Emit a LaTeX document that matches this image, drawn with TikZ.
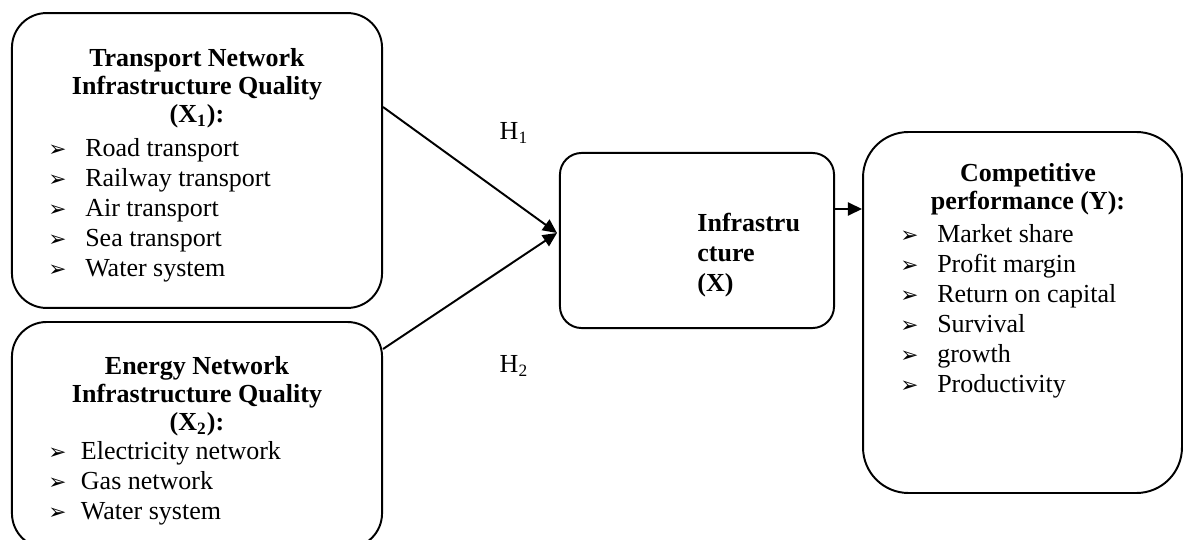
\documentclass[tikz,border=0pt]{standalone}
\usepackage{fontspec}
\setmainfont{Liberation Serif}
\newfontfamily\arrowfont{DejaVu Sans}
\usepackage{tikz}
\usetikzlibrary{calc,arrows.meta}

% list item with an arrowhead bullet
\newcommand{\itm}[2][17pt]{\makebox[#1][l]{\arrowfont\fontsize{10}{10}\selectfont ➢}#2}

\begin{document}
\begin{tikzpicture}[x=0.4615pt, y=-0.4615pt, >={Triangle[length=6.5pt,width=6pt]},
  font=\fontsize{12}{13.85}\selectfont,
  box/.style={draw, line width=0.9pt, inner sep=0pt},
  head/.style={align=center, inner sep=0pt, anchor=north, font=\fontsize{12}{13}\selectfont\bfseries},
  list/.style={align=left, inner sep=0pt, anchor=north west},
  link/.style={->, line width=0.9pt}]

\useasboundingbox (0,0) rectangle (1184,540);

% Boxes (pixel coordinates, y downwards)
\node[box, rounded corners=16pt, minimum width=170.8pt, minimum height=136.1pt] (tni) at (197,160.5) {};
\node[box, rounded corners=16pt, minimum width=170.8pt, minimum height=104.3pt] (eni) at (197,435) {};
\node[box, rounded corners=10pt, minimum width=126.5pt, minimum height=80.8pt] (infra) at (697,240.5) {};
\node[box, rounded corners=21pt, minimum width=147.2pt, minimum height=166.6pt] (cp) at (1022.5,312.5) {};

% Transport network
\node[head] (tniHead) at (197,48) {Transport Network\\ Infrastructure Quality\\ (X\textsubscript{1}):};
\node[list] (tniList) at (48,138) {\itm{Road transport}\\ \itm{Railway transport}\\ \itm{Air transport}\\
  \itm{Sea transport}\\ \itm{Water system}};

% Energy network
\node[head] (eniHead) at (197,356) {Energy Network\\ Infrastructure Quality\\ (X\textsubscript{2}):};
\node[list] (eniList) at (48,441) {\itm[15pt]{Electricity network}\\ \itm[15pt]{Gas network}\\
  \itm[15pt]{Water system}};

% Infrastructure
\node[list, font=\fontsize{12}{13.85}\selectfont\bfseries] (infraText) at (697,213) {Infrastru\\ cture\\ (X)};

% Competitive performance
\node[head] (cpHead) at (1028,163) {Competitive\\ performance (Y):};
\node[list] (cpList) at (900,224) {\itm{Market share}\\ \itm{Profit margin}\\ \itm{Return on capital}\\
  \itm{Survival}\\ \itm{growth}\\ \itm{Productivity}};

% Connectors
\coordinate (tip) at ($(infra.west)+(-2,-7.5)$);
\draw[link] ($(tni.east)+(0,-53.5)$) -- (tip);
\draw[link] ($(eni.east)+(0,-86)$) -- (tip);
\draw[link] ($(infra.east)+(0,-31.5)$) -- ($(cp.west)+(0,-103.5)$);

% Hypotheses
\node (h1) at (514,133) {H\textsubscript{1}};
\node (h2) at (514,366) {H\textsubscript{2}};

\end{tikzpicture}
\end{document}
